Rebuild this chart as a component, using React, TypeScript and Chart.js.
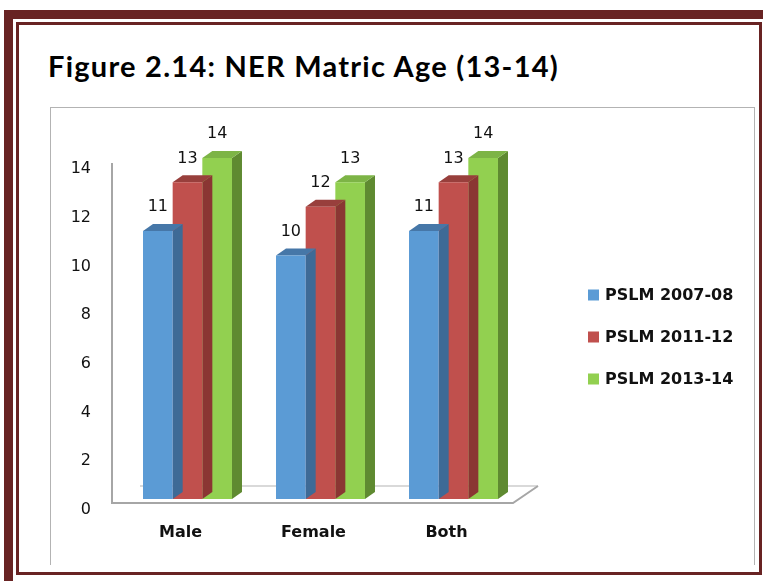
import React, { useEffect, useRef } from 'react';
import { Chart, registerables } from 'chart.js';

Chart.register(...registerables);

// ---- data ----
const categories = ['Male', 'Female', 'Both'];
const seriesNames = ['PSLM 2007-08', 'PSLM 2011-12', 'PSLM 2013-14'];
const pslm200708 = [11, 10, 11];
const pslm201112 = [13, 12, 13];
const pslm201314 = [14, 13, 14];
const yMin = 0;
const yMax = 14;
const yStep = 2;

// ---- styles ----
const frontColors = ['#5B9BD5', '#C0504D', '#92D050'];
const topColors = ['#4677A8', '#983F3C', '#7DB446'];
const sideColors = ['#3E6A96', '#8A3633', '#5F8A31'];
const MAROON = '#682323';
const DX = 10;
const DY = 7;

const threeD = {
  id: 'threeD',
  beforeDatasetsDraw(chart: any) {
    const { ctx, chartArea } = chart;
    const ys = chart.scales.y;
    const top = ys.getPixelForValue(yMax) + 5;
    const { left, right, bottom } = chartArea;
    ctx.save();
    // back floor edge
    ctx.strokeStyle = '#d9d9d9';
    ctx.lineWidth = 2;
    ctx.beginPath();
    ctx.moveTo(left + 19, bottom - 13);
    ctx.lineTo(right + 18, bottom - 13);
    ctx.stroke();
    // wall + front floor edge
    ctx.strokeStyle = '#a6a6a6';
    ctx.lineWidth = 2;
    ctx.beginPath();
    ctx.moveTo(left - 9, top);
    ctx.lineTo(left - 9, bottom + 4);
    ctx.lineTo(right - 7, bottom + 4);
    ctx.lineTo(right + 18, bottom - 13);
    ctx.stroke();
    ctx.restore();
  },
  beforeDatasetDraw(chart: any, args: any) {
    const { ctx } = chart;
    const i = args.index;
    const meta = chart.getDatasetMeta(i);
    ctx.save();
    meta.data.forEach((bar: any) => {
      const { x, y, base, width } = bar.getProps(['x', 'y', 'base', 'width'], true);
      const l = x - width / 2;
      const r = x + width / 2;
      ctx.fillStyle = sideColors[i];
      ctx.beginPath();
      ctx.moveTo(r, y);
      ctx.lineTo(r + DX, y - DY);
      ctx.lineTo(r + DX, base - DY);
      ctx.lineTo(r, base);
      ctx.closePath();
      ctx.fill();
      ctx.fillStyle = topColors[i];
      ctx.beginPath();
      ctx.moveTo(l, y);
      ctx.lineTo(l + DX, y - DY);
      ctx.lineTo(r + DX, y - DY);
      ctx.lineTo(r, y);
      ctx.closePath();
      ctx.fill();
    });
    ctx.restore();
  },
  afterDatasetsDraw(chart: any) {
    const { ctx, chartArea } = chart;
    ctx.save();
    // value labels
    ctx.font = '16px "DejaVu Sans"';
    ctx.fillStyle = '#111';
    ctx.textAlign = 'center';
    ctx.textBaseline = 'middle';
    chart.data.datasets.forEach((ds: any, i: number) => {
      const meta = chart.getDatasetMeta(i);
      meta.data.forEach((bar: any, j: number) => {
        ctx.fillText(String(ds.data[j]), bar.x, bar.y - 24);
      });
    });
    // legend
    ctx.font = 'bold 16px "DejaVu Sans"';
    ctx.textAlign = 'left';
    chart.data.datasets.forEach((ds: any, i: number) => {
      const cy = chartArea.top + 137 + i * 42;
      const sx = chartArea.right + 68;
      ctx.fillStyle = ds.backgroundColor;
      ctx.fillRect(sx, cy - 5.5, 11, 11);
      ctx.fillStyle = '#111';
      ctx.fillText(ds.label, sx + 17, cy + 1);
    });
    ctx.restore();
  },
};

export default function App() {
  const ref = useRef<HTMLCanvasElement>(null);
  useEffect(() => {
    if (!ref.current) return;
    const seriesValues = [pslm200708, pslm201112, pslm201314];
    const chart = new Chart(ref.current, {
      type: 'bar',
      data: {
        labels: categories,
        datasets: seriesNames.map((name, i) => ({
          label: name,
          data: seriesValues[i],
          backgroundColor: frontColors[i],
          borderWidth: 0,
          categoryPercentage: 0.669,
          barPercentage: 1,
        })),
      },
      options: {
        animation: false,
        responsive: false,
        maintainAspectRatio: false,
        devicePixelRatio: 1,
        layout: { padding: { left: 61, right: 243, top: 158, bottom: 27 } },
        plugins: {
          legend: { display: false },
          title: { display: false },
          tooltip: { enabled: false },
        },
        scales: {
          x: {
            grid: { display: false },
            border: { display: false },
            ticks: {
              color: '#111',
              font: { family: 'DejaVu Sans', size: 16, weight: 'bold' },
              padding: 16,
              labelOffset: -7,
            },
            afterFit: (s: any) => {
              s.height = 55;
            },
          },
          y: {
            min: yMin,
            max: yMax,
            grid: { display: false },
            border: { display: false },
            ticks: {
              stepSize: yStep,
              color: '#111',
              font: { family: 'DejaVu Sans', size: 16 },
              padding: 22,
              labelOffset: 11,
            },
            afterFit: (s: any) => {
              s.width = 60;
            },
          },
        },
      },
      plugins: [threeD],
    });
    return () => chart.destroy();
  }, []);

  return (
    <div
      style={{
        position: 'absolute',
        left: 0,
        top: 0,
        width: 763,
        height: 581,
        overflow: 'hidden',
        background: '#fff',
      }}
    >
      <div
        style={{
          position: 'absolute',
          left: 4,
          top: 10,
          width: 780,
          height: 600,
          border: `9px solid ${MAROON}`,
        }}
      />
      <div
        style={{
          position: 'absolute',
          left: 16,
          top: 22,
          width: 740,
          height: 547,
          border: `3px solid ${MAROON}`,
        }}
      />
      <div
        style={{
          position: 'absolute',
          left: 50,
          top: 107,
          width: 705,
          height: 458,
          borderTop: '1.5px solid #b3b3b3',
          borderLeft: '1.5px solid #b3b3b3',
          borderRight: '1.5px solid #b3b3b3',
          boxSizing: 'border-box',
        }}
      />
      <div
        style={{
          position: 'absolute',
          left: 48,
          top: 48,
          fontFamily: 'Lato, sans-serif',
          fontWeight: 700,
          fontSize: 29,
          letterSpacing: '1.25px',
          lineHeight: 'normal',
          color: '#000',
          whiteSpace: 'nowrap',
        }}
      >
        Figure 2.14: NER Matric Age (13-14)
      </div>
      <canvas
        ref={ref}
        width={763}
        height={581}
        style={{ position: 'absolute', left: 0, top: 0, width: 763, height: 581 }}
      />
    </div>
  );
}
